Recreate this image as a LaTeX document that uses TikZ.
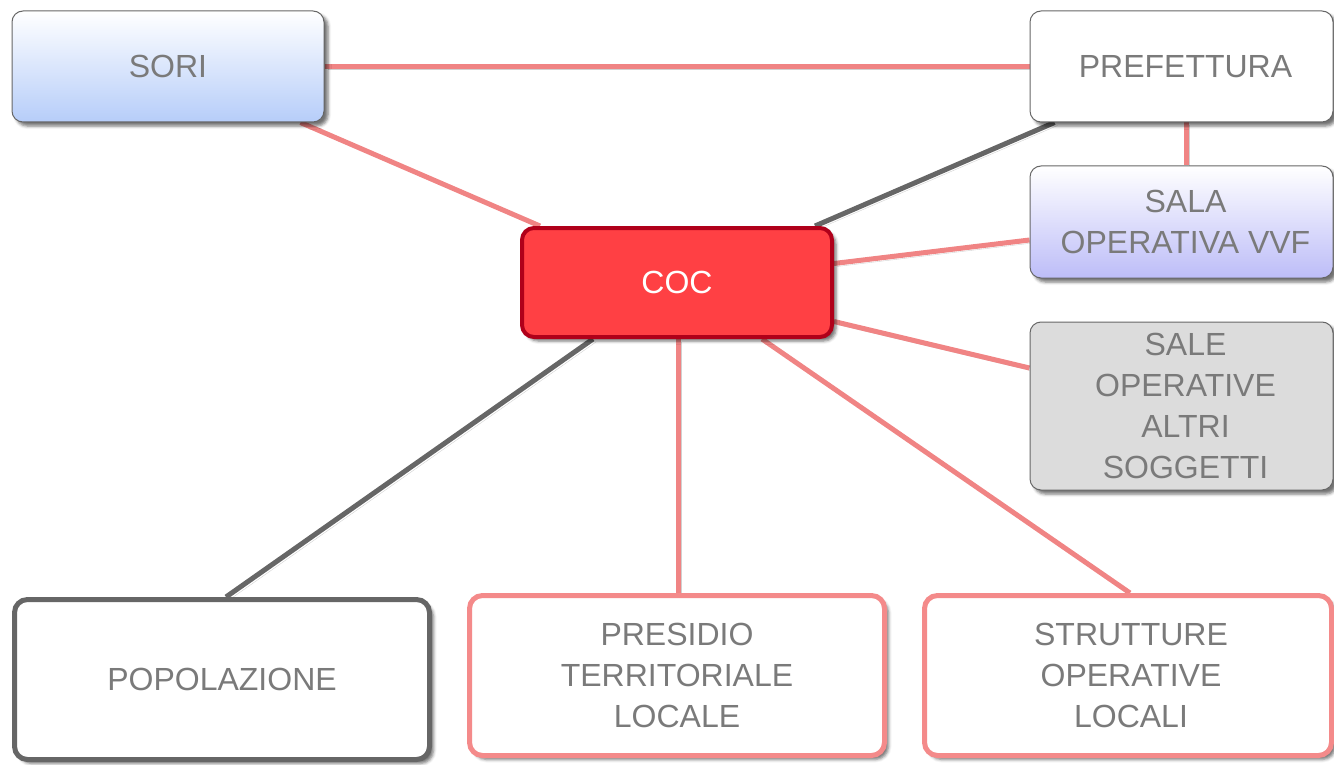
\documentclass[tikz,border=0pt]{standalone}
\usepackage{fontspec}
\setmainfont{Liberation Sans}
\usetikzlibrary{shadows.blur,backgrounds,calc}
\definecolor{txtgray}{HTML}{7A7A7A}
\definecolor{boxline}{HTML}{666666}
\definecolor{linkpink}{HTML}{F08484}
\definecolor{linkgray}{HTML}{666666}
\definecolor{soriblue}{HTML}{B6CDF9}
\definecolor{vvfblue}{HTML}{BDBDF8}
\definecolor{altrigray}{HTML}{DCDCDC}
\definecolor{cocfill}{HTML}{FF4044}
\definecolor{cocline}{HTML}{B0001A}
\definecolor{boxpink}{HTML}{F48A8A}
\tikzset{
  x=1pt, y=1pt,
  every node/.style={font=\fontsize{32}{41}\selectfont, text=txtgray, align=center, inner sep=0pt},
  sh/.style={blur shadow={shadow xshift=4pt, shadow yshift=-4pt, shadow blur radius=3pt, shadow opacity=55}},
  topbox/.style={draw=boxline, line width=1pt, rounded corners=11pt, sh},
  bigbox/.style={line width=5pt, rounded corners=13pt, fill=white, sh},
  linkshadow/.style={preaction={draw=black, opacity=0.18, transform canvas={shift={(3pt,-3pt)}}}},
  pinklink/.style={draw=linkpink, line width=5pt, linkshadow},
  graylink/.style={draw=linkgray, line width=5pt, linkshadow},
}
\begin{document}
\begin{tikzpicture}
\useasboundingbox (0,0) rectangle (1334,-765);

% upper boxes
\node[topbox, top color=white, bottom color=soriblue, minimum width=312, minimum height=111] (sori) at (168,-66.5) {SORI};
\node[topbox, fill=white, minimum width=303, minimum height=111] (pref) at (1181.5,-66.5) {\hspace*{8pt}PREFETTURA};
\node[topbox, top color=white, bottom color=vvfblue, minimum width=303, minimum height=112] (vvf) at (1181.5,-222) {\hspace*{8pt}SALA\\\hspace*{8pt}OPERATIVA VVF};
\node[topbox, fill=altrigray, minimum width=303, minimum height=168] (altri) at (1181.5,-406) {\hspace*{8pt}SALE\\\hspace*{8pt}OPERATIVE\\\hspace*{8pt}ALTRI\\\hspace*{8pt}SOGGETTI};

% central node
\node[draw=cocline, fill=cocfill, line width=4pt, rounded corners=12pt, text=white, sh,
      minimum width=310, minimum height=109] (coc) at (677,-282.5) {COC};

% lower boxes
\node[bigbox, draw=boxline, minimum width=415, minimum height=160] (pop) at (222,-679.5) {POPOLAZIONE};
\node[bigbox, draw=boxpink, minimum width=415, minimum height=160] (pres) at (677,-675.5) {PRESIDIO\\TERRITORIALE\\LOCALE};
\node[bigbox, draw=boxpink, minimum width=407, minimum height=160] (strut) at (1128,-675.5) {\hspace*{6pt}STRUTTURE\\\hspace*{6pt}OPERATIVE\\\hspace*{6pt}LOCALI};

% connectors
\begin{scope}[on background layer]
  \draw[pinklink] (sori.east) -- (pref.west);
  \draw[pinklink] ([xshift=-24pt]sori.south east) -- ([xshift=20pt]coc.north west);
  \draw[graylink] ([xshift=25pt]pref.south west) -- ([xshift=-19pt]coc.north east);
  \draw[pinklink] ([xshift=4.5pt]pref.south) -- ([xshift=4.5pt]vvf.north);
  \draw[pinklink] ([yshift=-18pt]vvf.west) -- ([yshift=19pt]coc.east);
  \draw[pinklink] ([yshift=38pt]altri.west) -- ([yshift=-39pt]coc.east);
  \draw[graylink] ([xshift=-84pt]coc.south) -- ([xshift=4pt]pop.north);
  \draw[pinklink] ([xshift=1pt]coc.south) -- ([xshift=1pt]pres.north);
  \draw[pinklink] ([xshift=85pt]coc.south) -- ([xshift=2pt]strut.north);
\end{scope}
\end{tikzpicture}
\end{document}
